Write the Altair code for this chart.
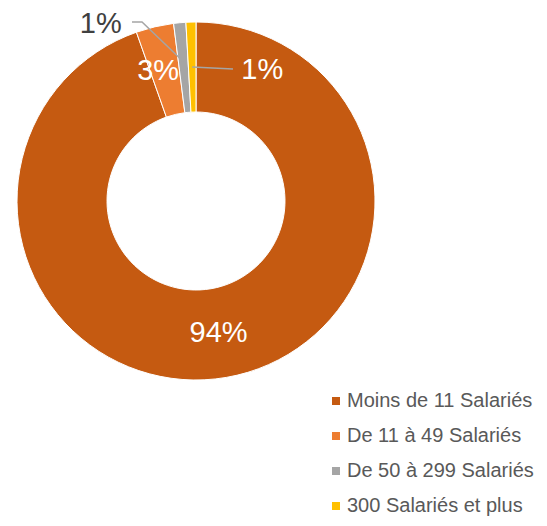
import altair as alt
import pandas as pd
import numpy as np

# ---- data ----
categories = ["Moins de 11 Salariés", "De 11 à 49 Salariés",
              "De 50 à 299 Salariés", "300 Salariés et plus"]
values = [94.6, 3.4, 1.1, 0.9]
labels = ["94%", "3%", "1%", "1%"]
colors = ["#C55A11", "#ED7D31", "#A5A5A5", "#FFC000"]

# ---- layout ----
W, H = 531, 510
CX, CY = 188, 193
R_OUT, R_IN = 179, 89
FONT = "Liberation Sans"

df = pd.DataFrame({"cat": categories, "value": values, "idx": range(len(values))})
df["big_lbl"] = [labels[0], "", "", ""]
df["or_lbl"] = ["", labels[1], "", ""]
df["gray_lbl"] = ["", "", labels[2], ""]
df["yel_lbl"] = ["", "", "", labels[3]]

# slice mid angles (degrees, clockwise from 12 o'clock) from the data
tot = sum(values)
cum = np.cumsum(values) / tot * 360
mid = cum - np.array(values) / tot * 360 / 2


def polar(angle_deg, r):
    a = np.radians(angle_deg)
    return CX + r * np.sin(a), CY - r * np.cos(a)


g0 = polar(mid[2], 140)
y0 = polar(mid[3], 134)
lines = pd.DataFrame({
    "line": ["g", "g", "g", "y", "y"],
    "k": [0, 1, 2, 0, 1],
    "px": [g0[0], 134, 124, y0[0], 225],
    "py": [g0[1], 14, 14, y0[1], 61],
})

base = alt.Chart(df).encode(
    theta=alt.Theta("value:Q", stack=True),
    order=alt.Order("idx:Q"),
    x=alt.value(CX),
    y=alt.value(CY),
)

arcs = base.mark_arc(outerRadius=R_OUT, innerRadius=R_IN, stroke="white",
                     strokeWidth=1).encode(
    color=alt.Color(
        "cat:N",
        sort=categories,
        scale=alt.Scale(domain=categories, range=colors),
        legend=alt.Legend(
            orient="none", legendX=318, legendY=383, title=None,
            symbolType="square", symbolSize=64, symbolStrokeWidth=0,
            labelFontSize=20, labelColor="#595959", labelFont=FONT,
            labelLimit=400, rowPadding=15, labelOffset=1,
        ),
    )
)

big_txt = base.mark_text(radius=(R_OUT + R_IN) / 2, fontSize=29, color="white",
                         font=FONT).encode(text="big_lbl:N", detail="cat:N")

or_txt = base.mark_text(radius=(R_OUT + R_IN) / 2, dx=-7, fontSize=29, color="white",
                        font=FONT).encode(text="or_lbl:N", detail="cat:N")

gray_txt = base.mark_text(radius=190, dx=-78, dy=12, fontSize=29, color="#404040",
                          font=FONT).encode(text="gray_lbl:N", detail="cat:N")

yel_txt = base.mark_text(radius=134, dx=70, dy=3, fontSize=29, color="white",
                         font=FONT).encode(text="yel_lbl:N", detail="cat:N")

leaders = alt.Chart(lines).mark_line(color="#A5A5A5", strokeWidth=1.5).encode(
    x=alt.X("px:Q", scale=None, axis=None),
    y=alt.Y("py:Q", scale=None, axis=None),
    detail="line:N",
    order="k:Q",
)

chart = alt.layer(arcs, leaders, big_txt, or_txt, gray_txt, yel_txt).properties(
    width=W, height=H, padding=0, autosize=alt.AutoSizeParams(type="none")
).configure_view(stroke=None)

chart.save("out.html", embed_options={"renderer": "svg", "actions": False})
